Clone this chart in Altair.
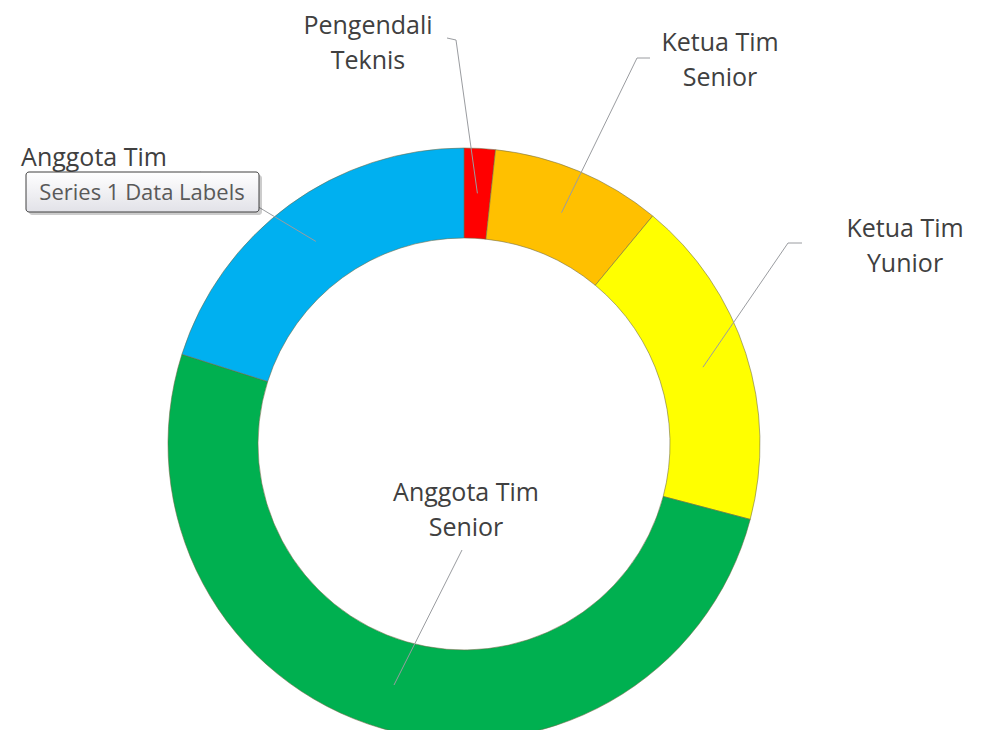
import altair as alt
import pandas as pd

# ---- data ----
categories = ["Pengendali Teknis", "Ketua Tim Senior", "Ketua Tim Yunior", "Anggota Tim Senior", "Anggota Tim"]
values = [1.7, 9.3, 18.1, 50.8, 20.1]
colors = ["#FF0000", "#FFC000", "#FFFF00", "#00B050", "#00B0F0"]
label_lines = [["Pengendali", "Teknis"], ["Ketua Tim", "Senior"], ["Ketua Tim", "Yunior"],
               ["Anggota Tim", "Senior"], ["Anggota Tim"]]

# ---- annotation layout (label placement, as moved by hand in the original) ----
label_x = [360, 712, 897, 458, 86]
label_y = [16, 33, 219, 483, 148]
lead_start_x = [439, 642, 794, 454, 192]
lead_start_y = [20, 40, 225, 532, 154]
lead_elbow_x = [448, 629, 780, 454, 192]
lead_elbow_y = [22, 40, 225, 532, 154]

CX, CY = 456, 426
R_OUT, R_IN, R_LEAD = 296, 206, 251

df = pd.DataFrame({
    "category": categories,
    "value": values,
    "idx": list(range(len(categories))),
    "label": label_lines,
    "lx": label_x, "ly": label_y,
    "sx": lead_start_x, "sy": lead_start_y,
    "ex": lead_elbow_x, "ey": lead_elbow_y,
})

base = alt.Chart(df)

donut = base.mark_arc(innerRadius=R_IN, outerRadius=R_OUT, stroke="#6e6a45",
                      strokeWidth=0.8, strokeOpacity=0.7).encode(
    theta=alt.Theta("value:Q", stack=True),
    color=alt.Color("category:N", scale=alt.Scale(domain=categories, range=colors), legend=None),
    order=alt.Order("idx:Q"),
    x=alt.value(CX), y=alt.value(CY),
)

anchored = base.transform_joinaggregate(
    total="sum(value)"
).transform_window(
    cum="sum(value)", sort=[alt.SortField("idx")], frame=[None, 0]
).transform_calculate(
    mid="2*PI*(datum.cum - datum.value/2)/datum.total"
).transform_calculate(
    ax=f"{CX} + {R_LEAD}*sin(datum.mid)",
    ay=f"{CY} - {R_LEAD}*cos(datum.mid)",
)

lead1 = base.mark_rule(color="#9a9ca0", strokeWidth=1).encode(
    x=alt.X("sx:Q", scale=None), y=alt.Y("sy:Q", scale=None),
    x2="ex:Q", y2="ey:Q",
)
lead2 = anchored.mark_rule(color="#9a9ca0", strokeWidth=1).encode(
    x=alt.X("ex:Q", scale=None), y=alt.Y("ey:Q", scale=None),
    x2="ax:Q", y2="ay:Q",
)

labels = base.mark_text(font="Open Sans", fontSize=25, color="#404040",
                        align="center", baseline="alphabetic", lineHeight=35).encode(
    x=alt.X("lx:Q", scale=None), y=alt.Y("ly:Q", scale=None),
    text="label",
)

# Excel-style "Series 1 Data Labels" tooltip
tip = pd.DataFrame({"t": ["Series 1 Data Labels"]})
tip_base = alt.Chart(tip)
tip_shadow = tip_base.mark_rect(cornerRadius=3, color="#000000", opacity=0.2).encode(
    x=alt.value(21), x2=alt.value(254), y=alt.value(157), y2=alt.value(197))
tip_box = tip_base.mark_rect(
    cornerRadius=3, stroke="#404040", strokeWidth=1,
    fill=alt.Gradient(gradient="linear", x1=0, y1=0, x2=0, y2=1,
                      stops=[alt.GradientStop(color="#ffffff", offset=0),
                             alt.GradientStop(color="#e2e2e8", offset=1)])
).encode(x=alt.value(18), x2=alt.value(251), y=alt.value(154), y2=alt.value(194))
tip_text = tip_base.mark_text(font="Open Sans", fontSize=22, color="#595959",
                              align="center", baseline="alphabetic").encode(
    x=alt.value(134), y=alt.value(182), text="t:N")

chart = alt.layer(donut, lead1, lead2, labels, tip_shadow, tip_box, tip_text).properties(
    width=970, height=712, padding={"left": 0, "top": 10, "right": 0, "bottom": 0}, autosize="none"
).configure_view(stroke=None)

chart.save("out.html", embed_options={"renderer": "svg", "actions": False})
